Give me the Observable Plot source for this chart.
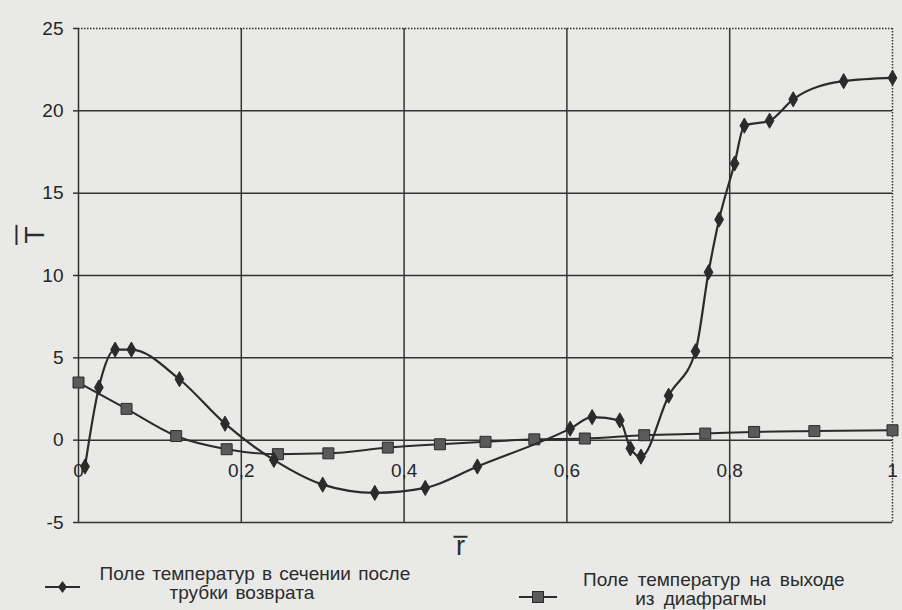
<!DOCTYPE html>
<html>
<head>
<meta charset="utf-8">
<script src="https://cdn.jsdelivr.net/npm/d3@7"></script>
<script src="https://cdn.jsdelivr.net/npm/@observablehq/plot@0.6"></script>
<style>
  html, body { margin: 0; padding: 0; background: #e9e9e7; }
  #wrap { position: relative; width: 902px; height: 610px; background: #e9e9e7; font-family: "Liberation Sans", Arial, sans-serif; color: #2a2a2a; overflow: hidden; }
  .leg { position: absolute; line-height: 19px; white-space: nowrap; color: #2b2b2b; text-align: center; text-indent: 26px; }
  .sw { position: absolute; }
</style>
</head>
<body>
<div id="wrap"></div>
<script>
// Series 1: "Поле температур в сечении после трубки возврата" (diamonds)
const r1 = [0.008, 0.025, 0.045, 0.065, 0.124, 0.18, 0.24, 0.30, 0.364, 0.426, 0.49, 0.604, 0.631, 0.665, 0.678, 0.691, 0.725, 0.758, 0.774, 0.787, 0.806, 0.818, 0.849, 0.878, 0.94, 1.0];
const t1 = [-1.6, 3.2, 5.5, 5.5, 3.7, 1.0, -1.2, -2.7, -3.2, -2.9, -1.6, 0.7, 1.4, 1.2, -0.5, -1.0, 2.7, 5.4, 10.2, 13.4, 16.8, 19.1, 19.4, 20.7, 21.8, 22.0];
// Series 2: "Поле температур на выходе из диафрагмы" (squares)
const r2 = [0, 0.059, 0.12, 0.182, 0.245, 0.307, 0.38, 0.444, 0.5, 0.56, 0.622, 0.695, 0.77, 0.83, 0.904, 1.0];
const t2 = [3.5, 1.9, 0.25, -0.55, -0.85, -0.8, -0.45, -0.25, -0.1, 0.05, 0.1, 0.3, 0.4, 0.5, 0.55, 0.6];

const seriesNames = [["Поле температур в сечении после", "трубки возврата"], ["Поле температур на выходе", "из диафрагмы"]];
const yTicks = [-5, 0, 5, 10, 15, 20, 25];
const yTickLabels = ["-5", "0", "5", "10", "15", "20", "25"];
const xTicks = [0, 0.2, 0.4, 0.6, 0.8, 1];
const xTickLabels = ["0", "0,2", "0,4", "0,6", "0,8", "1"];
const xTitle = "r";
const yTitle = "T";

const s1 = r1.map((r, i) => ({r, t: t1[i]}));
const s2 = r2.map((r, i) => ({r, t: t2[i]}));
const xLab = xTicks.map((v, i) => ({v, label: xTickLabels[i]}));

const ink = "#2b2b2b";
const ns = "http://www.w3.org/2000/svg";

const chart = Plot.plot({
  width: 902,
  height: 562,
  marginLeft: 78,
  marginRight: 10,
  marginTop: 28,
  marginBottom: 40,
  style: {background: "transparent", fontFamily: "Liberation Sans, Arial, sans-serif", fontSize: "19px", color: ink},
  x: {domain: [0, 1]},
  y: {domain: [-5, 25]},
  marks: [
    Plot.gridY(yTicks.filter(v => v < 25), {stroke: "#333", strokeOpacity: 1, strokeWidth: 1.5}),
    Plot.ruleY([25], {stroke: "#333", strokeWidth: 1.5, strokeDasharray: "1.5,1.5"}),
    Plot.gridX(xTicks.filter(v => v > 0 && v < 1), {stroke: "#333", strokeOpacity: 1, strokeWidth: 1.5}),
    Plot.ruleX([0], {stroke: "#333", strokeWidth: 1.5}),
    Plot.ruleX([1], {stroke: "#333", strokeWidth: 1.5, strokeDasharray: "1.5,1.5"}),
    Plot.axisY({ticks: yTicks, tickFormat: (d) => yTickLabels[yTicks.indexOf(d)], tickSize: 5, tickPadding: 10, fontSize: 19, label: null, stroke: "#333", strokeWidth: 1.5, fill: "#262626"}),
    Plot.axisX({ticks: [], label: null}),
    Plot.text(xLab, {x: "v", y: () => 0, text: "label", dy: 31, fontSize: 19, fill: "#262626"}),
    Plot.text([yTitle], {frameAnchor: "left", dx: -43, dy: -32, rotate: -90, fontSize: 28, fill: ink, className: "ytitle"}),
    Plot.text([xTitle], {frameAnchor: "bottom", dx: -25, dy: 32, fontSize: 27, fill: ink, className: "xtitle"}),
    Plot.line(s2, {x: "r", y: "t", curve: "monotone-x", stroke: ink, strokeWidth: 2}),
    Plot.dot(s2, {x: "r", y: "t", symbol: "square", r: 6.2, fill: "#5a5a5a", stroke: ink, strokeWidth: 1}),
    Plot.line(s1, {x: "r", y: "t", curve: "monotone-x", stroke: ink, strokeWidth: 2.2}),
    Plot.dot(s1, {x: "r", y: "t", symbol: "diamond", r: 4.6, fill: ink, stroke: ink, strokeWidth: 1})
  ]
});

const wrap = document.getElementById("wrap");
wrap.appendChild(chart);

// Overlines on the axis titles (T̄ and r̄)
function overline(sel, fs, heightEm, gap, extra) {
  const t = chart.querySelector(sel);
  if (!t) return;
  const bb = t.getBBox();
  const baseline = bb.y + bb.height - 0.212 * fs;
  const yy = baseline - heightEm * fs - gap;
  const l = document.createElementNS(ns, "line");
  l.setAttribute("x1", bb.x - extra);
  l.setAttribute("x2", bb.x + bb.width + extra);
  l.setAttribute("y1", yy);
  l.setAttribute("y2", yy);
  l.setAttribute("stroke", ink);
  l.setAttribute("stroke-width", 2);
  const tr = t.getAttribute("transform");
  if (tr) l.setAttribute("transform", tr);
  t.parentNode.appendChild(l);
}
overline(".ytitle text", 28, 0.716, 8, 1.5);
overline(".xtitle text", 27, 0.519, 4, 2.5);

// Legend
function swatch(left, top, width, kind) {
  const svg = document.createElementNS(ns, "svg");
  svg.setAttribute("width", width);
  svg.setAttribute("height", 16);
  svg.setAttribute("class", "sw");
  svg.style.left = left + "px";
  svg.style.top = (top - 8) + "px";
  const line = document.createElementNS(ns, "line");
  line.setAttribute("x1", 0); line.setAttribute("x2", width);
  line.setAttribute("y1", 8); line.setAttribute("y2", 8);
  line.setAttribute("stroke", ink); line.setAttribute("stroke-width", 2);
  svg.appendChild(line);
  const cx = width / 2;
  if (kind === "diamond") {
    const p = document.createElementNS(ns, "path");
    p.setAttribute("d", `M${cx},2L${cx + 4.5},8L${cx},14L${cx - 4.5},8Z`);
    p.setAttribute("fill", ink);
    svg.appendChild(p);
  } else {
    const rct = document.createElementNS(ns, "rect");
    rct.setAttribute("x", cx - 5.5); rct.setAttribute("y", 2.5);
    rct.setAttribute("width", 11); rct.setAttribute("height", 11);
    rct.setAttribute("fill", "#5a5a5a"); rct.setAttribute("stroke", ink);
    svg.appendChild(rct);
  }
  wrap.appendChild(svg);
}
function legBlock(cx, top, lines, size, wordSpacing) {
  const d = document.createElement("div");
  d.className = "leg";
  d.innerHTML = lines.join("<br>");
  d.style.fontSize = size + "px";
  d.style.wordSpacing = wordSpacing + "px";
  d.style.top = top + "px";
  wrap.appendChild(d);
  d.style.left = (cx - d.offsetWidth / 2) + "px";
}
swatch(45, 587, 35, "diamond");
legBlock(242, 564, seriesNames[0], 19, 2);
swatch(519, 597, 38, "square");
legBlock(701, 570, seriesNames[1], 19, 4);
</script>
</body>
</html>
